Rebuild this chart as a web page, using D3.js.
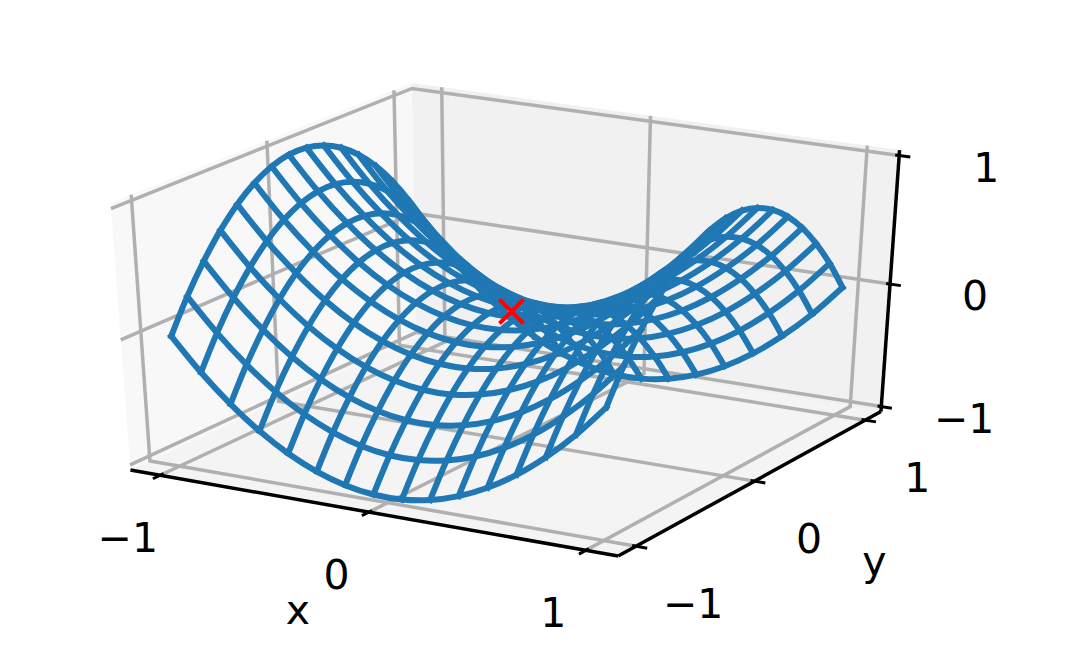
<!DOCTYPE html>
<html>
<head>
<meta charset="utf-8">
<script src="https://cdn.jsdelivr.net/npm/d3@7"></script>
<style>html,body{margin:0;padding:0;background:#fff}svg{display:block}text{font-family:"DejaVu Sans",sans-serif;fill:#000}</style>
</head>
<body>
<svg id="chart" width="1080" height="661"></svg>
<script>
const gridX = [-1,-0.867,-0.733,-0.6,-0.467,-0.333,-0.2,-0.067,0.067,0.2,0.333,0.467,0.6,0.733,0.867,1];
const gridY = [-1,-0.867,-0.733,-0.6,-0.467,-0.333,-0.2,-0.067,0.067,0.2,0.333,0.467,0.6,0.733,0.867,1];
// surface heights: one row per gridX value, one column per gridY value
const surfaceZ = [
[0,.249,.462,.64,.782,.889,.96,.996,.996,.96,.889,.782,.64,.462,.249,0],
[-.249,0,.213,.391,.533,.64,.711,.747,.747,.711,.64,.533,.391,.213,0,-.249],
[-.462,-.213,0,.178,.32,.427,.498,.534,.534,.498,.427,.32,.178,0,-.213,-.462],
[-.64,-.391,-.178,0,.142,.249,.32,.356,.356,.32,.249,.142,0,-.178,-.391,-.64],
[-.782,-.533,-.32,-.142,0,.107,.178,.214,.214,.178,.107,0,-.142,-.32,-.533,-.782],
[-.889,-.64,-.427,-.249,-.107,0,.071,.107,.107,.071,0,-.107,-.249,-.427,-.64,-.889],
[-.96,-.711,-.498,-.32,-.178,-.071,0,.036,.036,0,-.071,-.178,-.32,-.498,-.711,-.96],
[-.996,-.747,-.534,-.356,-.214,-.107,-.036,0,0,-.036,-.107,-.214,-.356,-.534,-.747,-.996],
[-.996,-.747,-.534,-.356,-.214,-.107,-.036,0,0,-.036,-.107,-.214,-.356,-.534,-.747,-.996],
[-.96,-.711,-.498,-.32,-.178,-.071,0,.036,.036,0,-.071,-.178,-.32,-.498,-.711,-.96],
[-.889,-.64,-.427,-.249,-.107,0,.071,.107,.107,.071,0,-.107,-.249,-.427,-.64,-.889],
[-.782,-.533,-.32,-.142,0,.107,.178,.214,.214,.178,.107,0,-.142,-.32,-.533,-.782],
[-.64,-.391,-.178,0,.142,.249,.32,.356,.356,.32,.249,.142,0,-.178,-.391,-.64],
[-.462,-.213,0,.178,.32,.427,.498,.534,.534,.498,.427,.32,.178,0,-.213,-.462],
[-.249,0,.213,.391,.533,.64,.711,.747,.747,.711,.64,.533,.391,.213,0,-.249],
[0,.249,.462,.64,.782,.889,.96,.996,.996,.96,.889,.782,.64,.462,.249,0]
];
const xTicks = [-1,0,1];
const yTicks = [-1,0,1];
const zTicks = [-1,0,1];
const markerPoint = [0,0,0];
const xLabel = "x";
const yLabel = "y";

const limX = 1.146, limY = 1.146, limZ = 1.042;
const wx = d3.scaleLinear().domain([-limX,limX]).range([-0.5,0.5]);
const wy = d3.scaleLinear().domain([-limY,limY]).range([-0.5,0.5]);
const wz = d3.scaleLinear().domain([-limZ,limZ]).range([-0.5,0.5]);
const px = d3.scaleLinear().domain([0,1]).range([511.5,511.5+5630]);
const py = d3.scaleLinear().domain([0,1]).range([311.5,311.5-3050]);
const el = 30*Math.PI/180, az = -60*Math.PI/180, dist = 10;
const n = [Math.cos(el)*Math.cos(az),Math.cos(el)*Math.sin(az),Math.sin(el)];
const un = Math.hypot(n[1],n[0]);
const u = [-n[1]/un,n[0]/un,0];
const v = [n[1]*u[2]-n[2]*u[1],n[2]*u[0]-n[0]*u[2],n[0]*u[1]-n[1]*u[0]];
const dot = (a,b)=>a[0]*b[0]+a[1]*b[1]+a[2]*b[2];
function proj(p){
  const d=[wx(p[0]),wy(p[1]),wz(p[2])];
  const w=dist-dot(n,d);
  return [px(dot(u,d)/w),py(dot(v,d)/w)];
}
const svg = d3.select("#chart");
const seg = d3.line();
const poly = pts => seg(pts.map(proj))+"Z";
const line3 = pts => seg(pts.map(proj));

// panes
const panes = [
 {fill:"#f8f8f8",c:[[-limX,-limY,-limZ],[-limX,limY,-limZ],[-limX,limY,limZ],[-limX,-limY,limZ]]},
 {fill:"#f1f1f1",c:[[-limX,limY,-limZ],[limX,limY,-limZ],[limX,limY,limZ],[-limX,limY,limZ]]},
 {fill:"#f4f4f4",c:[[-limX,-limY,-limZ],[limX,-limY,-limZ],[limX,limY,-limZ],[-limX,limY,-limZ]]}
];
svg.append("g").selectAll("path").data(panes).join("path").attr("d",d=>poly(d.c)).attr("fill",d=>d.fill);

// grid
const gridSegs = [];
xTicks.forEach(t=>{gridSegs.push([[t,-limY,-limZ],[t,limY,-limZ],[t,limY,limZ]]);});
yTicks.forEach(t=>{gridSegs.push([[limX,t,-limZ],[-limX,t,-limZ],[-limX,t,limZ]]);});
zTicks.forEach(t=>{gridSegs.push([[-limX,-limY,t],[-limX,limY,t],[limX,limY,t]]);});
svg.append("g").selectAll("path").data(gridSegs).join("path")
  .attr("d",line3).attr("fill","none").attr("stroke","#b0b0b0").attr("stroke-width",3.5);

// axis lines
const axisLines=[
 [[-limX,-limY,-limZ],[limX,-limY,-limZ]],
 [[limX,-limY,-limZ],[limX,limY,-limZ]],
 [[limX,limY,-limZ],[limX,limY,limZ]]
];
svg.append("g").selectAll("path").data(axisLines).join("path")
  .attr("d",line3).attr("fill","none").attr("stroke","#000").attr("stroke-width",3.5);

// ticks
const tOut=0.05,tIn=0.018,tOutY=0.055,tInY=0.025;
const tickSegs=[
 ...xTicks.map(t=>[[t,-limY-tOutY,-limZ],[t,-limY+tInY,-limZ]]),
 ...yTicks.map(t=>[[limX-tIn,t,-limZ],[limX+tOut,t,-limZ]]),
 ...zTicks.map(t=>[[limX-tIn,limY,t],[limX+tOut,limY,t]])
];
svg.append("g").selectAll("path").data(tickSegs).join("path")
  .attr("d",line3).attr("fill","none").attr("stroke","#000").attr("stroke-width",3);

// tick labels
const fs=41;
const fmt=t=>t<0?"\u2212"+Math.abs(t):String(t);
const labels=[
 ...xTicks.map(t=>{const p=proj([t,-limY,-limZ]);return {s:fmt(t),x:p[0]-32.5,y:p[1]+62};}),
 ...yTicks.map(t=>{const p=proj([limX,t,-limZ]);return {s:fmt(t),x:p[0]+54.5-2.5*t,y:p[1]+56.5};}),
 ...zTicks.map(t=>{const p=proj([limX,limY,t]);return {s:fmt(t),x:p[0]+85-2.2*(-t),y:p[1]+11};})
];
svg.append("g").selectAll("text").data(labels).join("text")
  .attr("x",d=>d.x).attr("y",d=>d.y+0.365*fs).attr("text-anchor","middle").attr("font-size",fs).text(d=>d.s);
const pxm=proj([0,-limY,-limZ]), pym=proj([limX,0,-limZ]);
svg.append("text").attr("x",pxm[0]-71).attr("y",pxm[1]+112).attr("text-anchor","middle").attr("font-size",fs).text(xLabel);
svg.append("text").attr("x",pym[0]+120).attr("y",pym[1]+94).attr("text-anchor","middle").attr("font-size",fs).text(yLabel);

// wireframe
const curve=d3.line().x(d=>d[0]).y(d=>d[1]).curve(d3.curveCatmullRom.alpha(0.5));
const wires=[];
gridX.forEach((x,i)=>wires.push(gridY.map((y,j)=>[x,y,surfaceZ[i][j]])));
gridY.forEach((y,j)=>wires.push(gridX.map((x,i)=>[x,y,surfaceZ[i][j]])));
svg.append("g").selectAll("path").data(wires).join("path")
  .attr("d",d=>curve(d.map(proj))).attr("fill","none").attr("stroke","#1f77b4")
  .attr("stroke-width",6).attr("stroke-linejoin","round").attr("stroke-linecap","square");

// marker
const m=proj(markerPoint), ms=12;
svg.append("path").attr("d",`M${m[0]-ms},${m[1]-ms}L${m[0]+ms},${m[1]+ms}M${m[0]-ms},${m[1]+ms}L${m[0]+ms},${m[1]-ms}`)
  .attr("stroke","#ff0000").attr("stroke-width",3.9).attr("fill","none");
</script>
</body>
</html>
